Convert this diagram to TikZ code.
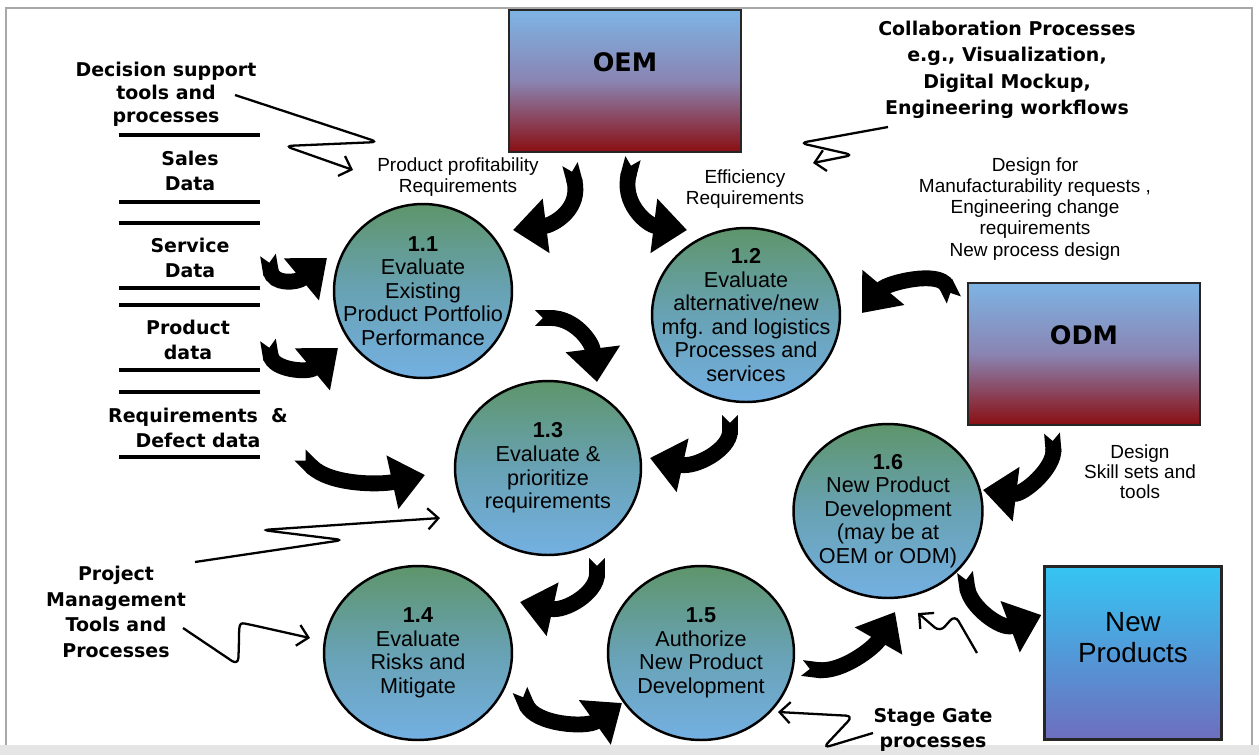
\documentclass[tikz,border=0pt]{standalone}
\usepackage{fontspec}
\setmainfont{Liberation Sans}
\newfontfamily\verdanafont{DejaVu Sans}
\usepackage{tikz}
\usetikzlibrary{arrows.meta,shapes.geometric,positioning}
\definecolor{ProcGreen}{HTML}{5E956B}
\definecolor{ProcMid}{HTML}{68A2B4}
\definecolor{ProcBlue}{HTML}{74B0E2}
\definecolor{PartnerBlue}{HTML}{7DB4E4}
\definecolor{PartnerMid}{HTML}{8A84B2}
\definecolor{PartnerRed}{HTML}{8A0E12}
\definecolor{ProdCyan}{HTML}{35C5F3}
\definecolor{ProdViolet}{HTML}{6E6EBE}
\definecolor{FrameGray}{HTML}{A8A8A8}

\tikzset{
  process/.style={ellipse, draw=black, line width=1.4pt, top color=ProcGreen, bottom color=ProcBlue, middle color=ProcMid,
    align=center, inner xsep=-0.45cm, inner ysep=-0.25cm, minimum height=3.48cm,
    font=\fontsize{12.3}{13.4}\selectfont},
  partner/.style={rectangle, draw=black!85, line width=1.3pt, top color=PartnerBlue, bottom color=PartnerRed, middle color=PartnerMid,
    minimum width=4.64cm, minimum height=2.84cm},
  boxtext/.style={font=\verdanafont\bfseries\fontsize{14.5}{17}\selectfont, yshift=0.38cm},
  boldlabel/.style={align=center, inner sep=0pt, font=\verdanafont\bfseries\fontsize{10.8}{14.7}\selectfont},
  notelabel/.style={align=center, inner sep=0pt, font=\fontsize{10.8}{12}\selectfont},
  flow/.style={line width=9pt, {Triangle Cap[reversed]}-{Triangle[width=30pt,length=19pt]}},
  squiggle/.style={line width=1.3pt, rounded corners=4pt, -{Straight Barb[length=6pt,width=12pt]}},
  storeline/.style={line width=2.2pt},
}

\begin{document}
\begin{tikzpicture}[x=0.02cm, y=-0.02cm]
  \useasboundingbox (0,0) rectangle (1259,755);
  % frame of the slide
  \fill[FrameGray!30] (0,745) rectangle (1259,755);
  \draw[FrameGray, line width=0.8pt] (6,745) -- (6,8) -- (1252,8) -- (1252,745);

  % data stores
  \foreach \y in {135,202,223,288,305,370,392,457}
    \draw[storeline] (119,\y) -- (260,\y);
  \node[boldlabel] (sales) at (190,171) {Sales\\Data};
  \node[boldlabel] (serv) at (190,258) {Service\\Data};
  \node[boldlabel] (prod) at (188,340) {Product\\data};
  \node[boldlabel] (req) at (198,428) {Requirements\ \ \&\\Defect data};

  % tools and processes
  \node[boldlabel, font=\verdanafont\bfseries\fontsize{10.8}{13}\selectfont] (dss) at (166,94) {Decision support\\tools and\\processes};
  \node[boldlabel] (pmt) at (116,612) {Project\\Management\\Tools and\\Processes};
  \node[boldlabel, font=\verdanafont\bfseries\fontsize{10.8}{15}\selectfont] (cpe) at (1007,70) {Collaboration Processes\\e.g., Visualization,\\Digital Mockup,\\Engineering workflows};
  \node[boldlabel] (sgp) at (933,730) {Stage Gate\\processes};

  % notes
  \node[notelabel] (ppr) at (458,177) {Product profitability\\Requirements};
  \node[notelabel] (eff) at (745,189) {Efficiency\\Requirements};
  \node[notelabel] (dfm) at (1035,209) {Design for\\Manufacturability requests ,\\Engineering change\\requirements\\New process design};
  \node[notelabel, font=\fontsize{10.8}{11.4}\selectfont] (skill) at (1140,472) {Design\\Skill sets and\\tools};

  % partners
  \node[partner, label={[boxtext]center:OEM}] (oem) at (625,81) {};
  \node[partner, label={[boxtext]center:ODM}] (odm) at (1084,354) {};
  \node[rectangle, draw=black!85, line width=1.3pt, top color=ProdCyan, bottom color=ProdViolet,
    minimum width=3.54cm, minimum height=3.46cm,
    label={[align=center, font=\fontsize{15.8}{17.6}\selectfont, yshift=0.3cm]center:New\\Products}] (np) at (1133,653) {};

  % processes
  \node[process, minimum width=3.56cm] (p11) at (423,291) {\textbf{1.1}\\Evaluate\\Existing\\Product Portfolio\\Performance};
  \node[process, minimum width=3.76cm] (p12) at (746,315) {\textbf{1.2}\\Evaluate\\alternative/new\\mfg. and logistics\\Processes and\\services};
  \node[process, minimum width=3.72cm] (p13) at (548,468) {\textbf{1.3}\\Evaluate \&\\prioritize\\requirements};
  \node[process, minimum width=3.76cm] (p14) at (418,653) {\textbf{1.4}\\Evaluate\\Risks and\\Mitigate};
  \node[process, minimum width=3.72cm] (p15) at (701,653) {\textbf{1.5}\\Authorize\\New Product\\Development};
  \node[process, minimum width=3.78cm] (p16) at (888,511) {\textbf{1.6}\\New Product\\Development\\(may be at\\OEM or ODM)};

  % block arrows
  \draw[flow] ([shift={(-55,11)}]oem.south) .. controls +(12,45) and +(40,-5) .. ([shift={(90,-61)}]p11.center);
  \draw[flow] ([shift={(8,5)}]oem.south) .. controls +(-12,45) and +(-40,-5) .. ([shift={(-59,-85)}]p12.center);
  \draw[flow] ([shift={(-13,-54)}]odm.west) .. controls +(-15,-30) and +(25,-30) .. ([shift={(116,-2)}]p12.center);
  \draw[flow] ([shift={(112,27)}]p11.center) .. controls +(40,0) and +(-5,-40) .. ([shift={(49,-86)}]p13.center);
  \draw[flow] ([shift={(-16,100)}]p12.center) .. controls +(0,35) and +(45,10) .. ([shift={(102,-10)}]p13.center);
  \draw[flow] ([shift={(49,90)}]p13.center) .. controls +(0,35) and +(45,10) .. ([shift={(102,-51)}]p14.center);
  \draw[flow] ([shift={(102,37)}]p14.center) .. controls +(15,35) and +(-35,25) .. ([shift={(-79,50)}]p15.center);
  \draw[flow] ([shift={(101,15)}]p15.center) .. controls +(40,5) and +(-20,35) .. ([shift={(7,101)}]p16.center);
  \draw[flow] ([shift={(77,61)}]p16.center) .. controls +(5,35) and +(-40,15) .. ([shift={(-2,-38)}]np.west);
  \draw[flow] ([shift={(-32,7)}]odm.south) .. controls +(3,35) and +(40,5) .. ([shift={(95,-21)}]p16.center);
  \draw[flow] ([shift={(78,-3)}]serv.center) .. controls +(5,30) and +(-30,25) .. ([shift={(-96,-33)}]p11.center);
  \draw[flow] ([shift={(80,0)}]prod.center) .. controls +(5,30) and +(-30,25) .. ([shift={(-85,57)}]p11.center);
  \draw[flow] ([shift={(102,27)}]req.center) .. controls +(30,30) and +(-45,10) .. ([shift={(-123,7)}]p13.center);

  % thin arrows
  \draw[squiggle] ([shift={(69,1)}]dss.center) -- ++(143,47) -- ++(-93,4) -- ([shift={(-105,-7)}]ppr.center);
  \draw[squiggle] ([shift={(-119,57)}]cpe.center) -- ++(-88,16) -- ++(53,12) -- ([shift={(68,-26)}]eff.center);
  \draw[squiggle] ([shift={(79,-50)}]pmt.center) -- ++(148,-22) -- ++(-81,-10) -- ([shift={(-108,50)}]p13.center);
  \draw[squiggle] ([shift={(67,16)}]pmt.center) -- ++(55,37) .. controls +(2,-38) and +(-15,-3) .. ++(14,-40) -- ([shift={(-108,-15)}]p14.center);
  \draw[squiggle] ([shift={(-60,3)}]sgp.center) -- ++(-50,15) -- ++(30,-32) -- ([shift={(77,59)}]p15.center);
  \coordinate (zz) at (977,653);
  \draw[squiggle] (zz) -- ++(-22,-38) -- ++(-15,17) -- ([shift={(30,102)}]p16.center);
\end{tikzpicture}
\end{document}
